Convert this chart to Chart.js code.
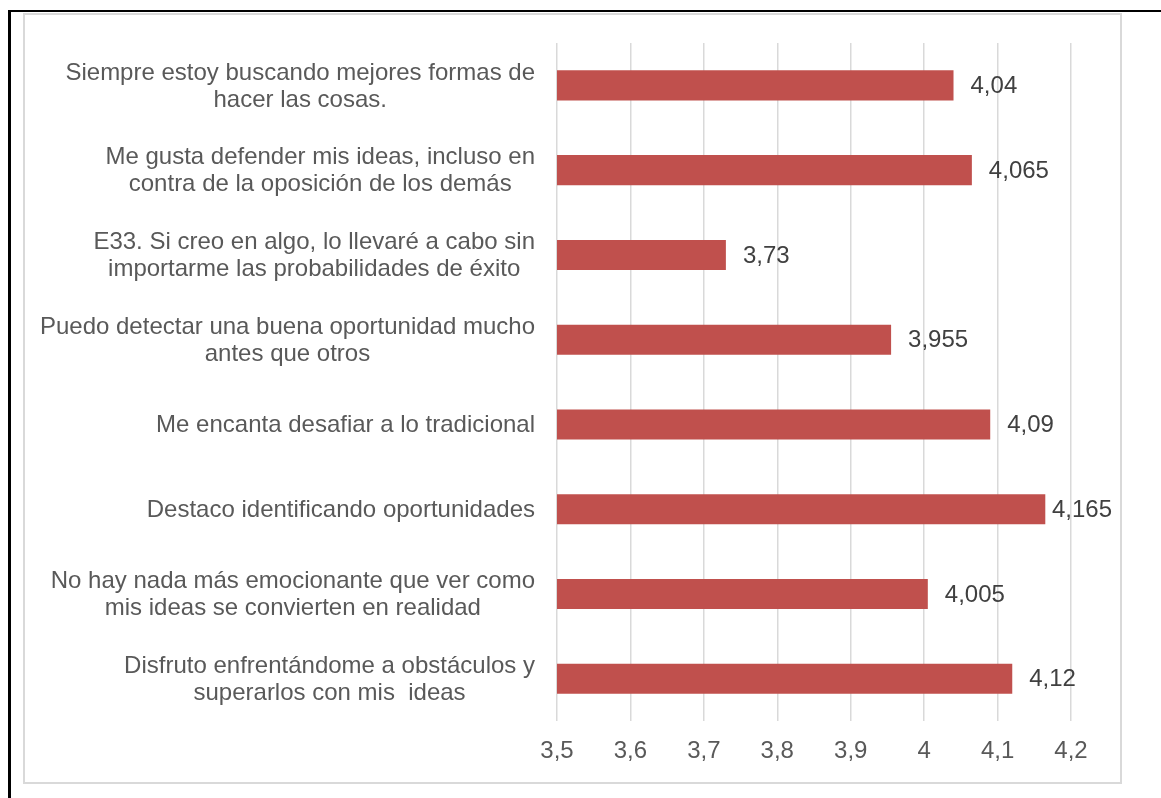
<!DOCTYPE html>
<html>
<head>
<meta charset="utf-8">
<script src="https://cdn.jsdelivr.net/npm/chart.js@4/dist/chart.umd.min.js"></script>
<style>
  html, body { margin: 0; padding: 0; background: #ffffff; width: 1161px; height: 798px; overflow: hidden; }
  .frame { position: absolute; left: 8px; top: 10px; right: 0; bottom: 0;
           border-left: 3px solid #000; border-top: 2px solid #000; }
  .box { position: absolute; left: 23px; top: 13px; width: 1095px; height: 767px;
         border: 2px solid #d9d9d9; }
  #chart { position: absolute; left: 0; top: 0; }
</style>
</head>
<body>
<div class="frame"></div>
<div class="box"></div>
<canvas id="chart" width="1161" height="798"></canvas>
<script>
// Statements, top to bottom
const categories = [
  ["Siempre estoy buscando mejores formas de", "hacer las cosas."],
  ["Me gusta defender mis ideas, incluso en", "contra de la oposición de los demás"],
  ["E33. Si creo en algo, lo llevaré a cabo sin", "importarme las probabilidades de éxito"],
  ["Puedo detectar una buena oportunidad mucho", "antes que otros"],
  ["Me encanta desafiar a lo tradicional"],
  ["Destaco identificando oportunidades"],
  ["No hay nada más emocionante que ver como", "mis ideas se convierten en realidad"],
  ["Disfruto enfrentándome a obstáculos y", "superarlos con mis  ideas"]
];
// Mean score for each statement
const scores = [4.04, 4.065, 3.73, 3.955, 4.09, 4.165, 4.005, 4.12];
// Value axis
const axisMin = 3.5;
const axisMax = 4.2;
const axisStep = 0.1;

const FONT = "'Liberation Sans', Arial, sans-serif";
const SIZE = 24;
const fmt = v => String(Number(v.toFixed(3))).replace('.', ',');

// Category labels: each block right-aligned to the axis, lines centred within the block
const categoryLabels = {
  id: 'categoryLabels',
  afterDraw(chart) {
    const { ctx, scales: { y }, chartArea } = chart;
    ctx.save();
    ctx.font = SIZE + 'px ' + FONT;
    ctx.fillStyle = '#595959';
    ctx.textAlign = 'center';
    ctx.textBaseline = 'middle';
    const lineH = 27;
    const right = chartArea.left - 22;
    categories.forEach((lines, i) => {
      const cy = y.getPixelForValue(i) + 1;
      const w = Math.max(...lines.map(l => ctx.measureText(l).width));
      const cx = right - w / 2;
      const y0 = cy - (lines.length - 1) * lineH / 2;
      lines.forEach((l, k) => ctx.fillText(l, cx, y0 + k * lineH));
    });
    ctx.restore();
  }
};

// Value labels just past the end of each bar, kept inside the frame
const valueLabels = {
  id: 'valueLabels',
  afterDatasetsDraw(chart) {
    const { ctx } = chart;
    const meta = chart.getDatasetMeta(0);
    ctx.save();
    ctx.font = SIZE + 'px ' + FONT;
    ctx.fillStyle = '#404040';
    ctx.textAlign = 'left';
    ctx.textBaseline = 'middle';
    const limit = 1112;
    meta.data.forEach((bar, i) => {
      const txt = fmt(scores[i]);
      const w = ctx.measureText(txt).width;
      let x = bar.x + 17;
      if (x + w > limit) x = Math.max(bar.x + 5, limit - w);
      ctx.fillText(txt, x, bar.y + 1);
    });
    ctx.restore();
  }
};

new Chart(document.getElementById('chart'), {
  type: 'bar',
  data: {
    labels: categories,
    datasets: [{
      data: scores,
      backgroundColor: '#c0504d',
      borderWidth: 0,
      barPercentage: 0.355,
      categoryPercentage: 1.0
    }]
  },
  options: {
    indexAxis: 'y',
    responsive: false,
    animation: false,
    devicePixelRatio: 1,
    layout: { padding: { left: 557, right: 90, top: 43, bottom: 16 } },
    plugins: { legend: { display: false }, tooltip: { enabled: false } },
    scales: {
      x: {
        min: axisMin,
        max: axisMax,
        base: axisMin,
        ticks: {
          stepSize: axisStep,
          padding: 16,
          color: '#595959',
          font: { family: FONT, size: SIZE },
          callback: v => String(Number(v.toFixed(1))).replace('.', ',')
        },
        grid: { color: '#d9d9d9', lineWidth: 1.5, drawTicks: false },
        border: { display: false }
      },
      y: {
        ticks: { display: false },
        grid: { display: false, drawTicks: false },
        border: { display: false }
      }
    }
  },
  plugins: [categoryLabels, valueLabels]
});
</script>
</body>
</html>
